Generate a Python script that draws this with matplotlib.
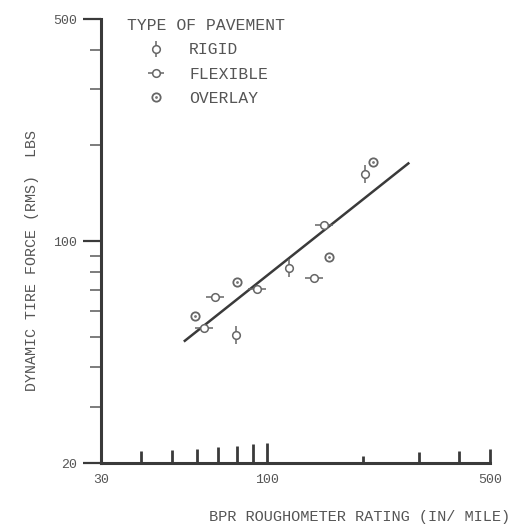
import matplotlib.pyplot as plt
from matplotlib.lines import Line2D
from matplotlib.legend_handler import HandlerTuple
from matplotlib.ticker import FixedLocator, NullFormatter

# values (BPR roughometer in/mile vs RMS force lbs)
rigid_x = [79.5, 116.6, 203]
rigid_y = [50.7, 82.4, 163]
flexible_x = [63.1, 68.3, 92.5, 139.6, 150]
flexible_y = [53.3, 66.8, 70.8, 76.7, 111.9]
overlay_x = [59.1, 80.1, 155.6, 215]
overlay_y = [58.2, 74.5, 89.3, 177]
fit_x = [55.0, 277]
fit_y = [48.5, 175.5]

x_major = [30, 100, 500]
x_minor = [40, 50, 60, 70, 80, 90, 200, 300, 400]
x_minor_len = [12, 13, 14, 16, 17, 19, 7, 11, 12]   # px, the scan has uneven ticks
x_major_len = [0, 20, 14]
y_major = [20, 100, 500]
y_minor = [30, 40, 50, 60, 70, 80, 90, 200, 300, 400]

ink = '#3a3a3a'
txt = '#555555'
font = 'Liberation Mono'
px = 0.72  # points per pixel at dpi 100

fig = plt.figure(figsize=(5.17, 5.25), dpi=100)
ax = fig.add_axes([101/517, 1-463/525, 389/517, 444/525])
ax.set_xscale('log')
ax.set_yscale('log')
ax.set_xlim(30, 500)
ax.set_ylim(20, 500)

for s in ['top', 'right']:
    ax.spines[s].set_visible(False)
for s in ['left', 'bottom']:
    ax.spines[s].set_linewidth(2.2)
    ax.spines[s].set_color(ink)

# fitted line
ax.plot(fit_x, fit_y, color=ink, lw=1.8, zorder=2)

# markers: circle plus a bar for rigid / flexible, dotted circle for overlay
ms = 5.5
ax.plot(rigid_x, rigid_y, ls='none', marker='|', ms=13, mew=1.1, color='#666666', zorder=3)
ax.plot(rigid_x, rigid_y, ls='none', marker='o', ms=ms, mfc='white', mec='#666666', mew=1.1, zorder=4)
ax.plot(flexible_x, flexible_y, ls='none', marker='_', ms=13, mew=1.1, color='#666666', zorder=3)
ax.plot(flexible_x, flexible_y, ls='none', marker='o', ms=ms, mfc='white', mec='#666666', mew=1.1, zorder=4)
ax.plot(overlay_x, overlay_y, ls='none', marker='o', ms=ms + 0.5, mfc='white', mec='#666666', mew=1.3, zorder=4)
ax.plot(overlay_x, overlay_y, ls='none', marker='.', ms=2, color='#777777', zorder=5)

# ticks
ax.xaxis.set_major_locator(FixedLocator(x_major))
ax.xaxis.set_minor_locator(FixedLocator(x_minor))
ax.xaxis.set_minor_formatter(NullFormatter())
ax.set_xticklabels([str(v) for v in x_major])
ax.yaxis.set_major_locator(FixedLocator(y_major))
ax.yaxis.set_minor_locator(FixedLocator(y_minor))
ax.yaxis.set_minor_formatter(NullFormatter())
ax.set_yticklabels([str(v) for v in y_major])

ax.tick_params(axis='x', which='both', direction='in', color=ink, width=2, pad=8)
ax.tick_params(axis='y', which='major', direction='out', length=13, color=ink, width=1.6, pad=4)
ax.tick_params(axis='y', which='minor', direction='out', length=8, color='#666666', width=1.2)
ax.tick_params(labelsize=9.5, labelcolor=txt)
for lab in ax.get_xticklabels() + ax.get_yticklabels():
    lab.set_fontfamily(font)

for t, L in zip(ax.xaxis.get_minor_ticks(), x_minor_len):
    t.tick1line.set_markersize(L * px)
for t, L in zip(ax.xaxis.get_major_ticks(), x_major_len):
    t.tick1line.set_markersize(L * px)

ax.set_ylabel('DYNAMIC TIRE FORCE (RMS)  LBS', family=font, fontsize=10.8, color=txt)
ax.yaxis.set_label_coords(-0.16, 0.455)
ax.set_xlabel('BPR ROUGHOMETER RATING (IN/ MILE)', family=font, fontsize=11, color=txt)
ax.xaxis.set_label_coords(0.665, -0.105)

# legend
mk = dict(ls='none', color='#666666', mew=1.1)
h_rigid = (Line2D([], [], marker='|', ms=12, **mk),
           Line2D([], [], marker='o', ms=ms, mfc='white', mec='#666666', ls='none', mew=1.1))
h_flex = (Line2D([], [], marker='_', ms=12, **mk),
          Line2D([], [], marker='o', ms=ms, mfc='white', mec='#666666', ls='none', mew=1.1))
h_over = (Line2D([], [], marker='o', ms=ms + 0.5, mfc='white', mec='#666666', ls='none', mew=1.3),
          Line2D([], [], marker='.', ms=2, color='#777777', ls='none'))
leg = ax.legend([h_rigid, h_flex, h_over], ['RIGID', 'FLEXIBLE', 'OVERLAY'],
                handler_map={tuple: HandlerTuple(ndivide=1, pad=0)},
                title='TYPE OF PAVEMENT', loc='upper left', bbox_to_anchor=(0.037, 1.027),
                frameon=False, handlelength=3.5, handletextpad=0.3, labelspacing=0.55,
                borderpad=0.2, prop={'family': font, 'size': 11.8},
                title_fontproperties={'family': font, 'size': 11.8})
leg._legend_box.align = 'left'
for t in leg.get_texts():
    t.set_color(txt)
leg.get_title().set_color(txt)

fig.savefig('out.png', dpi=100)
